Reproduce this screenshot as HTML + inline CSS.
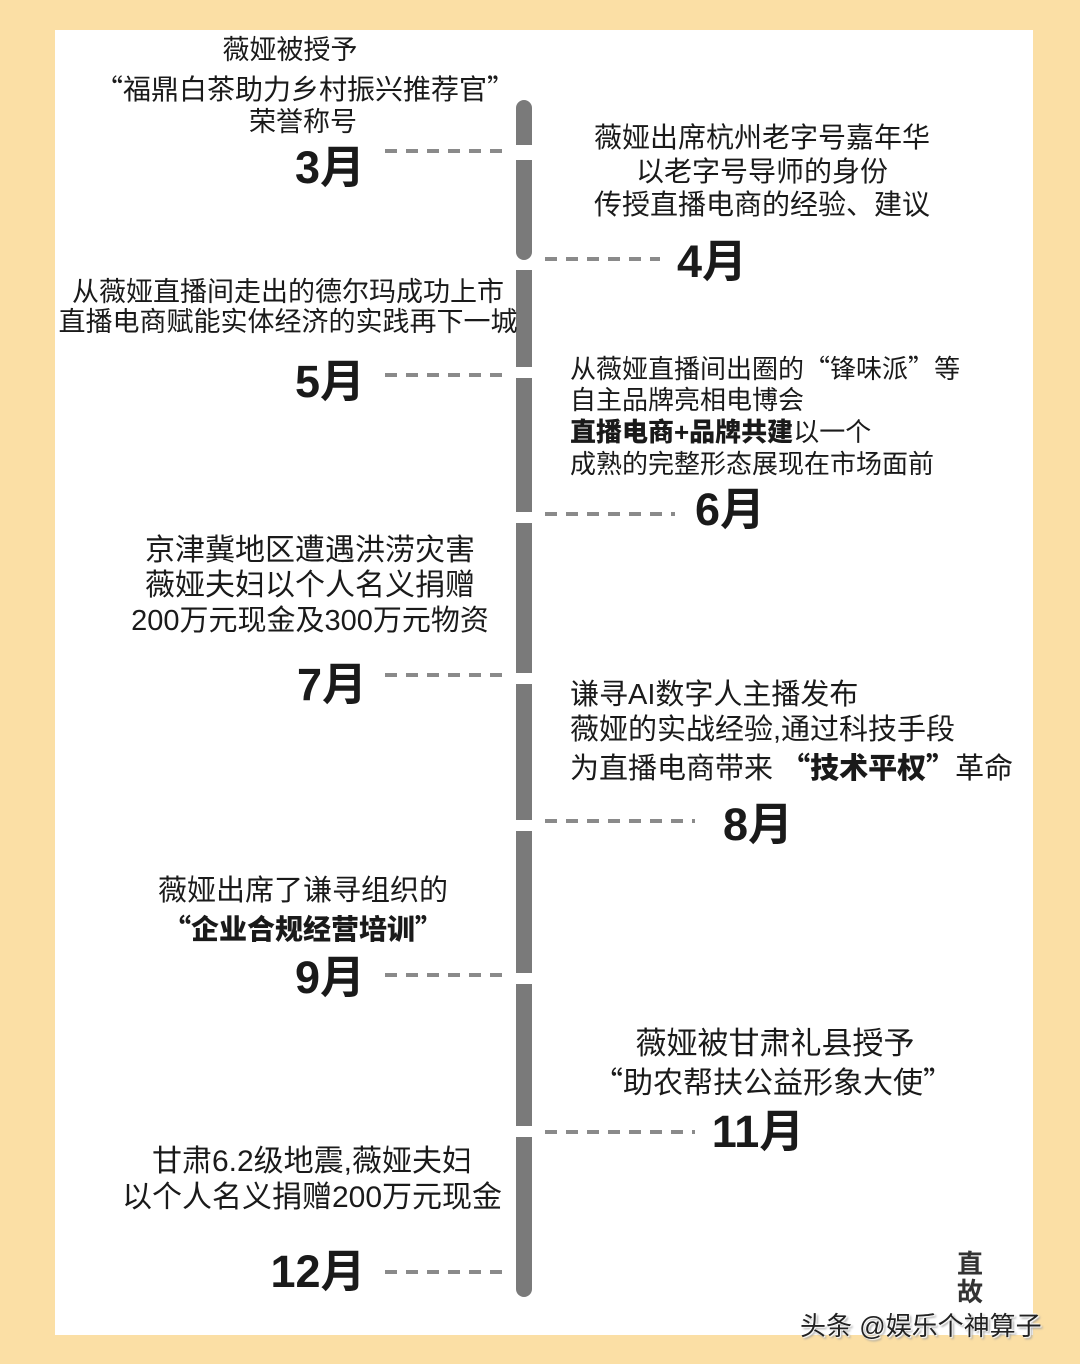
<!DOCTYPE html>
<html><head><meta charset="utf-8"><style>
body{margin:0;width:1080px;height:1364px;background:#fbdfa5;position:relative;overflow:hidden;font-family:"Liberation Sans","Noto Sans CJK SC",sans-serif;color:#1a1a1a}
#panel{position:absolute;left:55px;top:30px;width:978px;height:1305px;background:#fff}
.t{position:absolute;font-size:27px;line-height:34px;white-space:nowrap}
.c{transform:translateX(-50%);text-align:center}
.q{font-family:"Noto Sans CJK SC",sans-serif}
.m{position:absolute;font-size:45px;font-weight:bold;line-height:50px;white-space:nowrap;transform:translate(-50%,-50%)}
.seg{position:absolute;left:516px;width:16px;background:#7a7a7a}
.d{position:absolute;height:4px;background:repeating-linear-gradient(90deg,#8a8a8a 0 12px,transparent 12px 21px)}
b{font-weight:900}
</style></head><body>
<div id="panel"></div>
<div class="seg" style="top:100px;height:45px;border-radius:8px 8px 0 0"></div>
<div class="seg" style="top:160px;height:100px;border-radius:0 0 8px 8px"></div>
<div class="seg" style="top:270px;height:97px"></div>
<div class="seg" style="top:378px;height:134px"></div>
<div class="seg" style="top:523px;height:150px"></div>
<div class="seg" style="top:684px;height:136px"></div>
<div class="seg" style="top:831px;height:142px"></div>
<div class="seg" style="top:984px;height:142px"></div>
<div class="seg" style="top:1137px;height:160px;border-radius:0 0 8px 8px"></div>

<div class="d" style="left:385px;top:149px;width:120px"></div>
<div class="d" style="left:545px;top:257px;width:115px"></div>
<div class="d" style="left:385px;top:373px;width:120px"></div>
<div class="d" style="left:545px;top:512px;width:130px"></div>
<div class="d" style="left:385px;top:673px;width:120px"></div>
<div class="d" style="left:545px;top:819px;width:150px"></div>
<div class="d" style="left:385px;top:973px;width:120px"></div>
<div class="d" style="left:545px;top:1130px;width:150px"></div>
<div class="d" style="left:385px;top:1270px;width:120px"></div>

<div class="t c" style="left:290px;top:33px">薇娅被授予</div>
<div class="t c" style="left:305px;top:71px;font-size:28px"><span class="q">“</span>福鼎白茶助力乡村振兴推荐官<span class="q">”</span></div>
<div class="t c" style="left:303px;top:105px">荣誉称号</div>
<div class="m" style="left:330px;top:168px">3月</div>

<div class="t c" style="left:762px;top:121px;font-size:28px">薇娅出席杭州老字号嘉年华</div>
<div class="t c" style="left:762px;top:155px;font-size:28px">以老字号导师的身份</div>
<div class="t c" style="left:762px;top:188px;font-size:28px">传授直播电商的经验、建议</div>
<div class="m" style="left:712px;top:262px">4月</div>

<div class="t c" style="left:288px;top:275px">从薇娅直播间走出的德尔玛成功上市</div>
<div class="t c" style="left:288px;top:305px">直播电商赋能实体经济的实践再下一城</div>
<div class="m" style="left:330px;top:382px">5月</div>

<div class="t" style="left:570px;top:351px;font-size:26px">从薇娅直播间出圈的<span class="q">“</span>锋味派<span class="q">”</span>等</div>
<div class="t" style="left:570px;top:383px;font-size:26px">自主品牌亮相电博会</div>
<div class="t" style="left:570px;top:415px;font-size:26px"><b>直播电商+品牌共建</b>以一个</div>
<div class="t" style="left:570px;top:447px;font-size:26px">成熟的完整形态展现在市场面前</div>
<div class="m" style="left:730px;top:510px">6月</div>

<div class="t c" style="left:310px;top:534px;font-size:30px">京津冀地区遭遇洪涝灾害</div>
<div class="t c" style="left:310px;top:569px;font-size:30px">薇娅夫妇以个人名义捐赠</div>
<div class="t c" style="left:310px;top:604px;font-size:29px">200万元现金及300万元物资</div>
<div class="m" style="left:332px;top:685px">7月</div>

<div class="t" style="left:570px;top:678px;font-size:29px">谦寻AI数字人主播发布</div>
<div class="t" style="left:570px;top:713px;font-size:29px">薇娅的实战经验,通过科技手段</div>
<div class="t" style="left:570px;top:749px;font-size:29px">为直播电商带来 <b><span class="q">“</span>技术平权<span class="q">”</span></b>革命</div>
<div class="m" style="left:758px;top:825px">8月</div>

<div class="t c" style="left:303px;top:874px;font-size:29px">薇娅出席了谦寻组织的</div>
<div class="t c" style="left:303px;top:911px;font-size:28px"><b><span class="q">“</span>企业合规经营培训<span class="q">”</span></b></div>
<div class="m" style="left:330px;top:978px">9月</div>

<div class="t c" style="left:775px;top:1027px;font-size:31px">薇娅被甘肃礼县授予</div>
<div class="t c" style="left:773px;top:1063px;font-size:30px"><span class="q">“</span>助农帮扶公益形象大使<span class="q">”</span></div>
<div class="m" style="left:758px;top:1132px">11月</div>

<div class="t c" style="left:312px;top:1145px;font-size:30px">甘肃6.2级地震,薇娅夫妇</div>
<div class="t c" style="left:312px;top:1181px;font-size:30px">以个人名义捐赠200万元现金</div>
<div class="m" style="left:318px;top:1272px">12月</div>

<div class="t" style="left:957px;top:1250px;font-size:26px;font-weight:bold;line-height:28px;color:#333">直<br>故</div>
<div class="t" style="left:800px;top:1309px;font-size:26px;color:#222;text-shadow:1px 1px 1px #fff,-1px -1px 1px #fff,2px 2px 2px #999">头条 @娱乐个神算子</div>
</body></html>
